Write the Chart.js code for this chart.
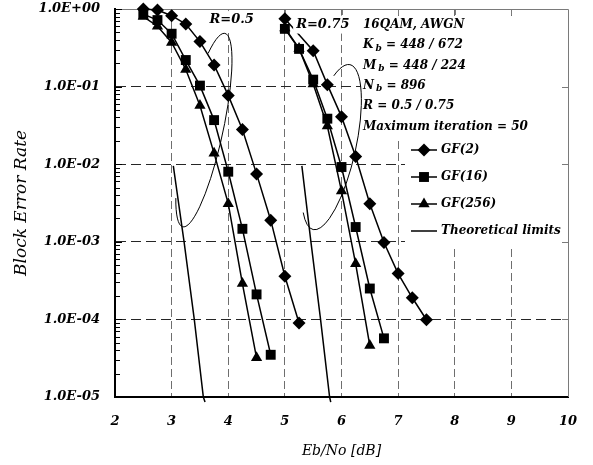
<!DOCTYPE html>
<html>
<head>
<meta charset="utf-8">
<script src="https://cdn.jsdelivr.net/npm/chart.js@4.4.1/dist/chart.umd.min.js"></script>
<style>
  html, body { margin: 0; padding: 0; background: #fff; }
  #wrap { width: 593px; height: 465px; }
</style>
</head>
<body>
<div id="wrap"><canvas id="chart"></canvas></div>
<script>
// ---- data (Eb/No in dB, block error rate) ----
const xR05 = [2.5, 2.75, 3, 3.25, 3.5, 3.75, 4, 4.25, 4.5, 4.75, 5, 5.25];
const gf2R05 = [1.0, 0.97, 0.82, 0.64, 0.38, 0.19, 0.077, 0.028, 0.0075, 0.0019, 3.6e-4, 9e-5];
const gf16R05 = [0.86, 0.72, 0.48, 0.22, 0.103, 0.037, 0.008, 0.00147, 2.1e-4, 3.5e-5];
const gf256R05 = [0.8, 0.6, 0.37, 0.166, 0.057, 0.0138, 0.0031, 2.9e-4, 3.2e-5];

const xGf2R075 = [5, 5.5, 5.75, 6, 6.25, 6.5, 6.75, 7, 7.25, 7.5];
const gf2R075 = [0.75, 0.29, 0.106, 0.041, 0.0126, 0.0031, 9.8e-4, 3.9e-4, 1.9e-4, 9.9e-5];
const xR075 = [5, 5.25, 5.5, 5.75, 6, 6.25, 6.5, 6.75];
const gf16R075 = [0.555, 0.306, 0.123, 0.0386, 0.0092, 0.00155, 2.5e-4, 5.7e-5];
const gf256R075 = [0.57, 0.31, 0.108, 0.031, 0.0045, 5.2e-4, 4.6e-5];

const xLimitR05 = [3.03, 3.22, 3.40, 3.56, 3.59];
const xLimitR075 = [5.30, 5.46, 5.63, 5.79, 5.81];
const yLimit = [9.5e-3, 1e-3, 1e-4, 1e-5, 8.6e-6];

const xTicks = [2, 3, 4, 5, 6, 7, 8, 9, 10];
const yTicks = [1e-5, 1e-4, 1e-3, 1e-2, 1e-1, 1];
const yMinorSteps = [2, 3, 4, 5, 6, 7, 8, 9];

const legendLabels = ['GF(2)', 'GF(16)', 'GF(256)', 'Theoretical limits'];
const infoLines = [
  [['16QAM, AWGN']],
  [['K'], ['b', true], [' = 448 / 672']],
  [['M'], ['b', true], [' = 448 / 224']],
  [['N'], ['b', true], [' = 896']],
  [['R = 0.5 / 0.75']],
  [['Maximum iteration = 50']]
];

// rate groups: label anchor and the loop drawn round the curves
const groups = [
  { label: 'R=0.5', lx: 4.06, ly: 0.72, cx: 3.57, cy: 0.0275, rx: 19, ry: 99, rot: 12.3, a0: -130, a1: 133 },
  { label: 'R=0.75', lx: 5.67, ly: 0.63, cx: 5.825, cy: 0.0166, rx: 24, ry: 84.5, rot: 12.6, a0: -124, a1: 124 }
];

function zip(xs, ys) {
  return ys.map((y, i) => ({ x: xs[i], y: y }));
}

const FONT = 'DejaVu Serif';

function series(label, data, style, radius) {
  return {
    label: label,
    data: data,
    borderColor: '#000',
    backgroundColor: '#000',
    borderWidth: 1.5,
    pointStyle: style,
    pointRadius: radius,
    pointBorderWidth: 0,
    tension: 0,
    clip: false
  };
}

const datasets = [
  series('GF(2)', zip(xR05, gf2R05), 'rectRot', 6.5),
  series('GF(16)', zip(xR05, gf16R05), 'rect', 7),
  series('GF(256)', zip(xR05, gf256R05), 'triangle', 6.5),
  series('GF(2)', zip(xGf2R075, gf2R075), 'rectRot', 6.5),
  series('GF(16)', zip(xR075, gf16R075), 'rect', 7),
  series('GF(256)', zip(xR075, gf256R075), 'triangle', 6.5),
  series('Theoretical limits', zip(xLimitR05, yLimit), 'circle', 0),
  series('Theoretical limits', zip(xLimitR075, yLimit), 'circle', 0)
];

function expLabel(v) {
  const e = Math.round(Math.log10(v));
  return '1.0E' + (e >= 0 ? '+' : '-') + String(Math.abs(e)).padStart(2, '0');
}

function drawMarker(ctx, style, radius, x, y) {
  if (Chart.helpers && Chart.helpers.drawPoint) {
    Chart.helpers.drawPoint(ctx, { pointStyle: style, radius: radius, rotation: 0, borderWidth: 0 }, x, y);
  }
}

const overlay = {
  id: 'overlay',
  beforeDatasetsDraw(chart) {
    const ctx = chart.ctx;
    const a = chart.chartArea;
    const xs = chart.scales.x, ys = chart.scales.y;
    ctx.save();

    // white boxes behind the notes and the legend
    ctx.fillStyle = '#fff';
    ctx.fillRect(361, a.top + 7, a.right - 361, 122);
    ctx.fillRect(405, 139, a.right - 405, 107);

    // top and right frame
    ctx.strokeStyle = '#7a7a7a';
    ctx.lineWidth = 1;
    ctx.beginPath();
    ctx.moveTo(a.left, a.top + 0.5);
    ctx.lineTo(a.right + 0.5, a.top + 0.5);
    ctx.lineTo(a.right + 0.5, a.bottom);
    ctx.stroke();

    // small inward ticks on top and right
    ctx.beginPath();
    xTicks.slice(1, -1).forEach(v => {
      const px = Math.round(xs.getPixelForValue(v)) + 0.5;
      ctx.moveTo(px, a.top);
      ctx.lineTo(px, a.top + 6);
    });
    yTicks.slice(1, -1).forEach(v => {
      const py = Math.round(ys.getPixelForValue(v)) + 0.5;
      ctx.moveTo(a.right, py);
      ctx.lineTo(a.right - 6, py);
    });
    ctx.stroke();

    // minor ticks on the left axis
    ctx.strokeStyle = '#000';
    ctx.beginPath();
    yTicks.slice(0, -1).forEach(d => {
      yMinorSteps.forEach(m => {
        const py = Math.round(ys.getPixelForValue(d * m)) + 0.5;
        ctx.moveTo(a.left, py);
        ctx.lineTo(a.left + 5, py);
      });
    });
    yTicks.forEach(d => {
      const py = Math.round(ys.getPixelForValue(d)) + 0.5;
      ctx.moveTo(a.left, py);
      ctx.lineTo(a.left + 7, py);
    });
    ctx.stroke();
    ctx.restore();
  },

  afterDatasetsDraw(chart) {
    const ctx = chart.ctx;
    const xs = chart.scales.x, ys = chart.scales.y;
    const deg = Math.PI / 180;
    ctx.save();

    // loops and rate labels
    groups.forEach(g => {
      ctx.strokeStyle = '#000';
      ctx.lineWidth = 1;
      ctx.beginPath();
      ctx.ellipse(xs.getPixelForValue(g.cx), ys.getPixelForValue(g.cy), g.rx, g.ry,
                  g.rot * deg, g.a0 * deg, g.a1 * deg, false);
      ctx.stroke();

      ctx.font = 'italic bold 13px "' + FONT + '"';
      ctx.textAlign = 'center';
      ctx.textBaseline = 'middle';
      const lx = xs.getPixelForValue(g.lx), ly = ys.getPixelForValue(g.ly);
      const w = ctx.measureText(g.label).width;
      ctx.fillStyle = '#fff';
      ctx.fillRect(lx - w / 2 - 3, ly - 9, w + 6, 18);
      ctx.fillStyle = '#000';
      ctx.fillText(g.label, lx, ly);
    });

    // notes
    ctx.textAlign = 'left';
    ctx.textBaseline = 'middle';
    ctx.fillStyle = '#000';
    infoLines.forEach((parts, i) => {
      let x = 363;
      const y = 25 + i * 20.3;
      parts.forEach(([txt, sub]) => {
        ctx.font = sub ? 'italic bold 9px "' + FONT + '"' : 'italic bold 12px "' + FONT + '"';
        if (sub) x += 2;
        ctx.fillText(txt, x, sub ? y + 3 : y);
        x += ctx.measureText(txt).width;
      });
    });

    // legend
    const entries = [datasets[0], datasets[1], datasets[2], datasets[6]];
    entries.forEach((ds, i) => {
      const y = 150 + i * 27;
      ctx.strokeStyle = '#000';
      ctx.lineWidth = 1.5;
      ctx.beginPath();
      ctx.moveTo(411, y);
      ctx.lineTo(437, y);
      ctx.stroke();
      if (ds.pointRadius > 0) {
        ctx.fillStyle = '#000';
        drawMarker(ctx, ds.pointStyle, ds.pointRadius, 424, y);
      }
      ctx.fillStyle = '#000';
      ctx.font = 'italic bold 12px "' + FONT + '"';
      ctx.fillText(legendLabels[i], 441, y);
    });
    ctx.restore();
  }
};

const tickFont = { family: FONT, size: 13, style: 'italic', weight: 'bold' };

new Chart(document.getElementById('chart'), {
  type: 'line',
  data: { datasets: datasets },
  plugins: [overlay],
  options: {
    responsive: true,
    maintainAspectRatio: false,
    animation: false,
    layout: { padding: { top: 9, right: 25, bottom: 0, left: 0 } },
    plugins: { legend: { display: false }, tooltip: { enabled: false } },
    scales: {
      x: {
        type: 'linear',
        min: 2,
        max: 10,
        afterBuildTicks: s => { s.ticks = xTicks.map(v => ({ value: v })); },
        afterFit: s => { s.height = 68; s.paddingLeft = 0; s.paddingRight = 0; },
        grid: {
          color: c => (c.tick && (c.tick.value === 2 || c.tick.value === 10)) ? 'rgba(0,0,0,0)' : '#6e6e6e',
          lineWidth: 1,
          drawTicks: false
        },
        border: { display: true, color: '#000', width: 2, dash: [8, 4] },
        ticks: { color: '#000', font: tickFont, padding: 17, autoSkip: false, maxRotation: 0 },
        title: {
          display: true, text: 'Eb/No [dB]', color: '#000',
          font: { family: FONT, size: 14, style: 'italic' }, padding: { top: 4, bottom: 5 }
        }
      },
      y: {
        type: 'logarithmic',
        min: 1e-5,
        max: 1,
        afterBuildTicks: s => { s.ticks = yTicks.map(v => ({ value: v })); },
        afterFit: s => { s.width = 115; s.paddingTop = 0; s.paddingBottom = 0; },
        grid: {
          color: c => (c.tick && (c.tick.value === 1 || c.tick.value === 1e-5)) ? 'rgba(0,0,0,0)' : '#262626',
          lineWidth: 1,
          drawTicks: false
        },
        border: { display: true, color: '#000', width: 2, dash: [10, 5] },
        ticks: { color: '#000', font: tickFont, padding: 15, autoSkip: false, callback: v => expLabel(v) },
        title: {
          display: true, text: 'Block Error Rate', color: '#000',
          font: { family: FONT, size: 17, style: 'italic' }, padding: { top: 11.8, bottom: 4 }
        }
      }
    }
  }
});
</script>
</body>
</html>
